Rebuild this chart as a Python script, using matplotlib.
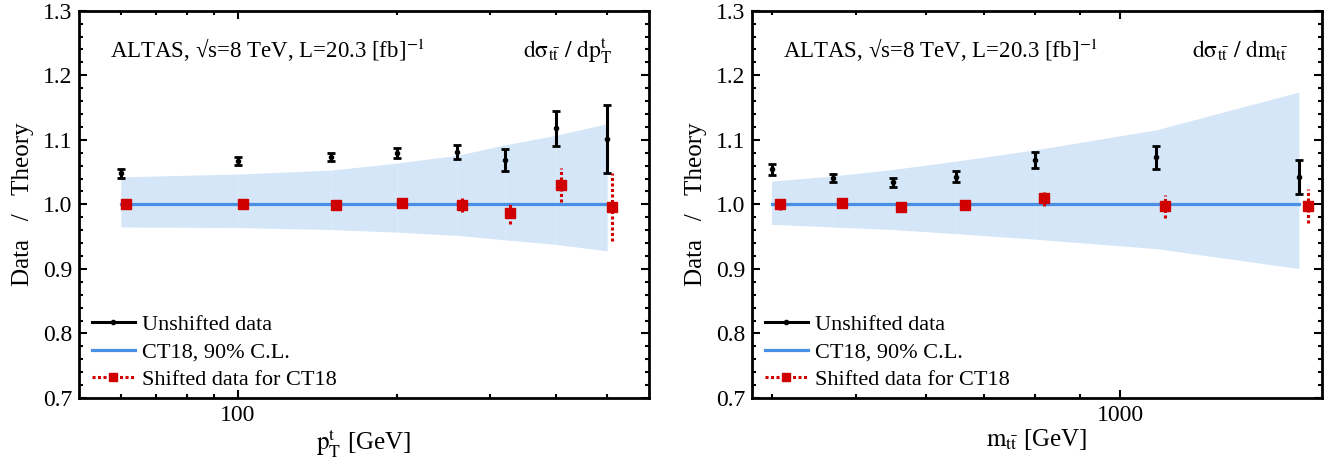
import matplotlib
matplotlib.use("Agg")
import matplotlib.pyplot as plt
from matplotlib.lines import Line2D
from matplotlib.ticker import FixedLocator, MultipleLocator, NullFormatter, FixedFormatter
import numpy as np

plt.rcParams['font.family'] = ['Liberation Serif', 'DejaVu Serif']
plt.rcParams['mathtext.fontset'] = 'stix'

# ---- top-quark transverse momentum ----
pt_x = [60, 100, 150, 200, 260, 320, 400, 500]
pt_unshifted = [1.048, 1.067, 1.073, 1.0795, 1.0805, 1.068, 1.118, 1.101]
pt_err = [0.0075, 0.006, 0.006, 0.008, 0.011, 0.017, 0.027, 0.053]
pt_shifted = [1.000, 1.001, 0.999, 1.002, 0.999, 0.987, 1.030, 0.996]
pt_band_hi = [1.0426, 1.047, 1.053, 1.064, 1.076, 1.092, 1.107, 1.125]
pt_band_lo = [0.965, 0.964, 0.961, 0.957, 0.952, 0.945, 0.938, 0.928]

# ---- top-pair invariant mass ----
mtt_x = [400, 470, 550, 650, 800, 1100, 1600]
mtt_unshifted = [1.054, 1.041, 1.0345, 1.043, 1.069, 1.073, 1.042]
mtt_err = [0.008, 0.006, 0.007, 0.008, 0.012, 0.018, 0.026]
mtt_shifted = [1.000, 1.0015, 0.9965, 0.999, 1.0098, 0.997, 0.9975]
mtt_band_hi = [1.036, 1.044, 1.054, 1.067, 1.0845, 1.1155, 1.174]
mtt_band_lo = [0.969, 0.965, 0.961, 0.9546, 0.946, 0.9314, 0.9005]

header = "ALTAS, \u221as=8 TeV, L=20.3 [fb]$^{-1}$"
legend_labels = ["Unshifted data", "CT18, 90% C.L.", "Shifted data for CT18"]

BAND = '#d4e6f8'
LINE = '#4a8fe6'
RED = '#d00000'

fig = plt.figure(figsize=(13.35, 4.66), dpi=100)
ax1 = fig.add_axes([79/1335, 1-398/466, 570/1335, 387.3/466])
ax2 = fig.add_axes([752/1335, 1-398/466, 570/1335, 387.3/466])


def draw_panel(ax, x, unshifted, err, shifted, hi, lo, xlim, major, minor,
               xlabel, obs, obs_x):
    x = np.asarray(x, float)
    # uncertainty band drawn piecewise between neighbouring bins
    for i in range(len(x) - 1):
        ax.fill_between(x[i:i+2], lo[i:i+2], hi[i:i+2], color=BAND, lw=0, zorder=1)
    ax.plot([x[0], x[-1]], [1.0, 1.0], color=LINE, lw=2.3, zorder=2)
    ax.errorbar(x, unshifted, yerr=err, fmt='o', color='black', ms=3,
                elinewidth=2.2, capsize=2.8, capthick=2.0, zorder=4)
    eb = ax.errorbar(x * 1.023, shifted, yerr=err, fmt='s', color=RED, ms=6.5,
                     elinewidth=2.2, capsize=0, zorder=5)
    eb[2][0].set_linestyle((0, (1.0, 0.8)))

    ax.set_xscale('log')
    ax.set_xlim(*xlim)
    ax.set_ylim(0.7, 1.3)
    ax.xaxis.set_major_locator(FixedLocator(major))
    ax.xaxis.set_major_formatter(FixedFormatter([str(m) for m in major]))
    ax.xaxis.set_minor_locator(FixedLocator(minor))
    ax.xaxis.set_minor_formatter(NullFormatter())
    ax.yaxis.set_major_locator(MultipleLocator(0.1))
    ax.yaxis.set_minor_locator(MultipleLocator(0.02))
    ax.yaxis.set_major_formatter(plt.FuncFormatter(lambda v, p: f"{v:.1f}"))

    ax.tick_params(which='both', direction='in', top=True, right=True,
                   width=1.5, labelsize=17)
    ax.tick_params(which='major', length=6, pad=5)
    ax.tick_params(which='minor', length=3.2)
    for s in ax.spines.values():
        s.set_linewidth(2.0)

    ax.set_xlabel(xlabel, fontsize=18, labelpad=1)
    ax.set_ylabel("Data   /   Theory", fontsize=18, labelpad=6)

    ax.text(0.054, 0.897, header, transform=ax.transAxes, fontsize=16.5,
            ha='left', va='center')
    ax.text(obs_x, 0.897, obs, transform=ax.transAxes, fontsize=17,
            ha='right', va='center')

    handles = [
        Line2D([0], [0], color='black', lw=2.2, marker='o', ms=3),
        Line2D([0], [0], color=LINE, lw=2.3),
        Line2D([0], [0], color=RED, lw=2.2, ls=(0, (1.0, 0.8)), marker='s', ms=6),
    ]
    ax.legend(handles, legend_labels, loc='lower left', frameon=False,
              fontsize=16, handlelength=1.9, handletextpad=0.35,
              labelspacing=0.3, borderaxespad=0.2, bbox_to_anchor=(0.0, -0.013))


draw_panel(ax1, pt_x, pt_unshifted, pt_err, pt_shifted, pt_band_hi, pt_band_lo,
           (50, 600), [100], [60, 70, 80, 90, 200, 300, 400, 500],
           r"$\mathrm{p_T^t}$ [GeV]",
           r"$\mathrm{d\sigma_{t\bar{t}}\ /\ dp_T^t}$", 0.935)
draw_panel(ax2, mtt_x, mtt_unshifted, mtt_err, mtt_shifted, mtt_band_hi, mtt_band_lo,
           (380, 1700), [1000], [400, 500, 600, 700, 800, 900],
           r"$\mathrm{m_{t\bar{t}}}$ [GeV]",
           r"$\mathrm{d\sigma_{t\bar{t}}\ /\ dm_{t\bar{t}}}$", 0.94)

fig.savefig("out.png", dpi=100)
